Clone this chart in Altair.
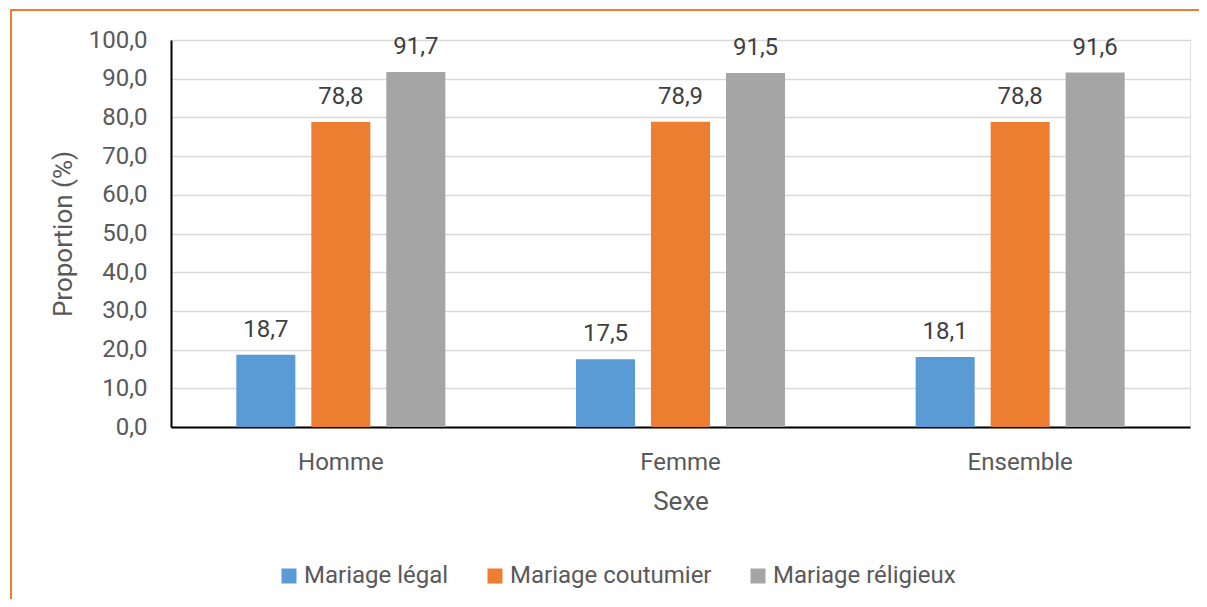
import altair as alt
import pandas as pd

groups = ["Homme", "Femme", "Ensemble"]
series = ["Mariage légal", "Mariage coutumier", "Mariage réligieux"]
legal = [18.7, 17.5, 18.1]
coutumier = [78.8, 78.9, 78.8]
religieux = [91.7, 91.5, 91.6]
colors = ["#5B9BD5", "#ED7D31", "#A5A5A5"]
y_ticks = [0, 10, 20, 30, 40, 50, 60, 70, 80, 90, 100]

rows = []
for i, g in enumerate(groups):
    for s, vals in zip(series, [legal, coutumier, religieux]):
        rows.append({"Sexe": g, "Type": s, "Valeur": vals[i]})
df = pd.DataFrame(rows)

W, H = 1019, 387
FONT = "Roboto"
TXT = "#595959"

x = alt.X("Sexe:N", sort=groups, title="Sexe",
          scale=alt.Scale(paddingInner=0, paddingOuter=0),
          axis=alt.Axis(labelAngle=0, ticks=False, labelFontSize=24, titleFontSize=26,
                        labelPadding=23, titlePadding=14, labelColor=TXT, titleColor=TXT,
                        titleFontWeight="normal", domainColor="#000000", domainWidth=2,
                        labelFont=FONT, titleFont=FONT, labelFontWeight="normal"))
xo = alt.XOffset("Type:N", sort=series,
                 scale=alt.Scale(paddingInner=0.213, paddingOuter=0.871))
y = alt.Y("Valeur:Q", title="Proportion (%)",
          scale=alt.Scale(domain=[0, 100], nice=False),
          axis=alt.Axis(values=y_ticks, ticks=False, grid=True, gridColor="#D9D9D9",
                        gridWidth=1.5, domainColor="#000000", domainWidth=2,
                        labelOverlap=False, labelFlush=False,
                        labelExpr="replace(format(datum.value, '.1f'), '.', ',')",
                        labelFontSize=24, titleFontSize=26, labelPadding=24, titlePadding=12,
                        labelColor=TXT, titleColor=TXT, titleFontWeight="normal",
                        labelFont=FONT, titleFont=FONT, labelFontWeight="normal"))

bars = alt.Chart(df).mark_bar().encode(
    x=x, xOffset=xo, y=y,
    color=alt.Color("Type:N", sort=series,
                    scale=alt.Scale(domain=series, range=colors),
                    legend=alt.Legend(title=None, orient="none", direction="horizontal",
                                      legendX=106, legendY=524, symbolType="square",
                                      symbolSize=225, symbolStrokeWidth=0,
                                      labelFontSize=24, labelColor=TXT, labelFont=FONT,
                                      labelLimit=0, columnPadding=34, labelOffset=3)),
)

labels = alt.Chart(df).mark_text(baseline="alphabetic", dy=-18, fontSize=24,
                                 font=FONT, color="#404040").encode(
    x=x, xOffset=xo, y=y,
    text=alt.Text("label:N"),
).transform_calculate(label="replace(format(datum.Valeur, '.1f'), '.', ',')")

border = alt.Chart(alt.Data(values=[{"k": 1}])).mark_rect(
    fill=None, stroke="#ED7D31", strokeWidth=2, clip=False
).encode(x=alt.value(-160), x2=alt.value(W + 100), y=alt.value(-30), y2=alt.value(H + 400))

chart = alt.layer(border, bars, labels).properties(
    width=W, height=H,
    autosize=alt.AutoSizeParams(type="none"),
    padding={"left": 163, "top": 32, "right": 9, "bottom": 172},
).configure_view(stroke=None).configure(background="white")

chart.save("out.html", embed_options={"renderer": "svg", "actions": False})
